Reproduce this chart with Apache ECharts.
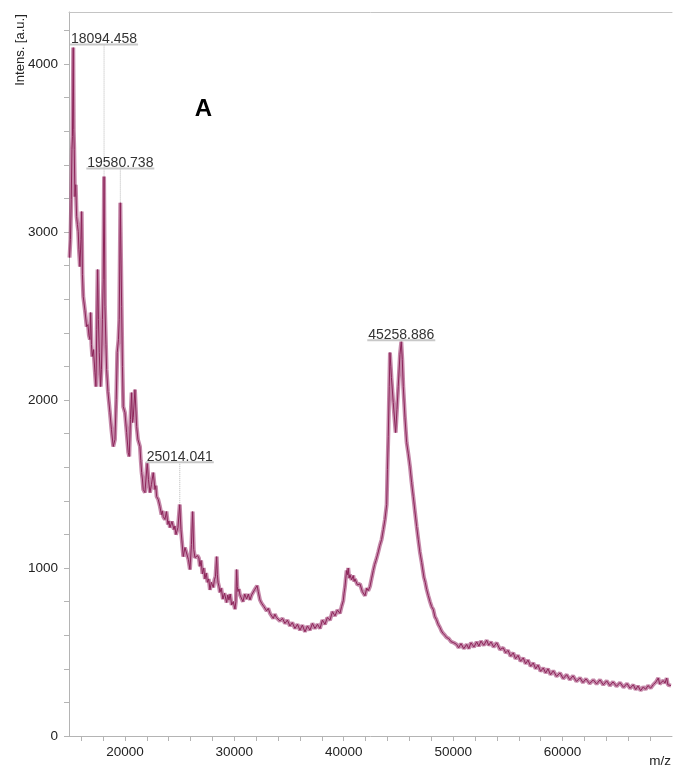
<!DOCTYPE html>
<html>
<head>
<meta charset="utf-8">
<script src="https://cdn.jsdelivr.net/npm/echarts@6/dist/echarts.min.js"></script>
<style>
  html, body { margin: 0; padding: 0; background: #fff; }
  #chart { width: 675px; height: 770px; }
</style>
</head>
<body>
<div id="chart"></div>
<script>
const chart = echarts.init(document.getElementById('chart'));

// spectrum trace: m/z and intensity
const mzValues = [
  14939, 15022, 15095, 15159, 15205, 15278, 15323, 15369, 15433, 15506, 15588, 15662, 15735, 15799, 15890, 15981,
  16045, 16119, 16192, 16347, 16502, 16621, 16713, 16804, 16868, 16941, 17014, 17124, 17261, 17352, 17426, 17508,
  17581, 17654, 17782, 17855, 17947, 18020, 18094, 18175, 18266, 18330, 18449, 18632, 18769, 18934, 19089, 19208,
  19299, 19409, 19482, 19581, 19701, 19775, 19848, 20003, 20158, 20305, 20396, 20506, 20615, 20689, 20762, 20917,
  21072, 21191, 21374, 21450, 21529, 21600, 21676, 21831, 22041, 22151, 22288, 22425, 22589, 22745, 22820, 22900,
  23047, 23202, 23339, 23420, 23504, 23659, 23796, 23933, 24020, 24116, 24299, 24482, 24570, 24664, 24847, 25014,
  25121, 25332, 25487, 25642, 25807, 25944, 26081, 26191, 26291, 26401, 26630,
  26760, 26858, 26960, 27087, 27200, 27315, 27430, 27544, 27660, 27772, 27900, 28077, 28180, 28279, 28388, 28450,
  28507, 28600, 28686, 28800, 28960, 29100, 29299, 29400, 29509, 29620, 29755, 29900, 30057, 30140, 30212, 30270,
  30331, 30420, 30514, 30650, 30788, 30950, 31126, 31280, 31428, 31580, 31730, 31850, 31976, 32080, 32186, 32340,
  32497, 32600, 32708, 32830, 32955, 33100, 33258, 33400, 33562, 33700, 33850, 34000, 34170, 34400, 34627, 34850,
  35084, 35300, 35541, 35770, 35998, 36220, 36455, 36680, 36912, 37140, 37369, 37600, 37826, 38050, 38283, 38500,
  38740, 38970, 39197, 39420, 39654, 39800, 39955, 40030, 40108, 40190, 40263, 40340, 40410, 40490, 40568, 40720,
  40870, 40950, 41025, 41250, 41482, 41700, 41939, 42100, 42240, 42396, 42550, 42697, 42820, 42942, 43050, 43153,
  43300, 43461, 43620, 43767, 43923, 43995, 44069, 44160, 44224, 44300, 44359, 44524, 44743, 44862, 44981, 45138,
  45258, 45350, 45441, 45595, 45750, 45900, 46052, 46200, 46354, 46500, 46664, 46811, 46960, 47121, 47332, 47450,
  47578, 47730, 47880, 48030, 48182, 48330, 48474, 48630, 48794, 48930, 49068, 49240, 49406, 49600, 49799, 50060,
  50320, 50500, 50713, 50970, 51235, 51430, 51627, 51900, 52148, 52350, 52541, 52800, 53063, 53250, 53455, 53700,
  53976, 54280, 54580, 54800, 55009, 55250, 55494, 55700, 55923, 56160, 56406, 56620, 56837, 57080, 57322, 57540,
  57751, 57990, 58236, 58450, 58665, 58900, 59150, 59450, 59762, 60060, 60375, 60660, 60950, 61270, 61590, 61860,
  62138, 62470, 62806, 63110, 63418, 63720, 64030, 64320, 64606, 64930, 65246, 65570, 65886, 66170, 66462, 66680,
  66891, 67130, 67376, 67590, 67805, 68050, 68290, 68420, 68536, 68747, 68870, 68993, 69204, 69360, 69515, 69620,
  69725, 69907
];
const intensValues = [
  2848, 2955, 3193, 3491, 3568, 4098, 3610, 3491, 3211, 3282, 3092, 3044, 3003, 2896, 2794, 2955,
  3122, 2747, 2616, 2533, 2437, 2449, 2384, 2360, 2521, 2330, 2259, 2300, 2163, 2080, 2419, 2777,
  2479, 2283, 2080, 2181, 2479, 2717, 3330, 2556, 2330, 2181, 2050, 1925, 1824, 1723, 1765, 2003,
  2283, 2360, 2479, 3175, 2556, 2199, 1961, 1925, 1806, 1687, 1664, 1884, 2044, 1866, 1896, 2062,
  1842, 1765, 1723, 1640, 1568, 1530, 1467, 1449, 1628, 1527, 1449, 1497, 1568, 1467, 1490, 1425,
  1408, 1366, 1318, 1340, 1306, 1289, 1336, 1259, 1280, 1241, 1277, 1229, 1250, 1199, 1241, 1378,
  1229, 1068, 1122, 1128, 1050, 991, 1140, 1336, 1110, 1062, 1074,
  1060, 1010, 1045, 965, 1000, 935, 970, 915, 935, 870, 915, 885, 930, 950, 1068, 960,
  915, 890, 855, 880, 815, 850, 795, 840, 810, 845, 780, 800, 755, 800, 991, 890,
  860, 875, 840, 830, 800, 845, 815, 845, 810, 840, 830, 870, 880, 895, 860, 810,
  790, 800, 770, 775, 745, 760, 730, 740, 700, 725, 705, 715, 685, 700, 670, 690,
  655, 675, 640, 665, 630, 660, 620, 655, 630, 670, 640, 665, 640, 690, 665, 705,
  690, 740, 715, 750, 730, 770, 805, 850, 885, 940, 985, 960, 1000, 940, 960, 930,
  955, 920, 935, 900, 905, 860, 835, 880, 865, 890, 940, 985, 1020, 1045, 1070, 1095,
  1135, 1170, 1230, 1289, 1378, 1586, 1783, 2080, 2283, 2200, 2134, 1985, 1806, 1943, 2080, 2271,
  2348, 2241, 2080, 1896, 1747, 1680, 1604, 1510, 1425, 1340, 1247, 1170, 1095, 1033, 943, 915,
  872, 835, 800, 770, 753, 710, 693, 665, 646, 625, 612, 600, 586, 580, 562, 555,
  545, 525, 550, 520, 545, 520, 555, 530, 560, 535, 565, 540, 570, 540, 560, 530,
  555, 515, 525, 495, 510, 475, 495, 460, 480, 445, 465, 430, 452, 415, 435, 400,
  422, 385, 405, 375, 400, 365, 388, 355, 375, 342, 365, 335, 358, 325, 346, 318,
  340, 312, 334, 310, 334, 305, 328, 300, 322, 296, 318, 290, 312, 284, 305, 276,
  298, 270, 292, 278, 300, 285, 306, 296, 322, 345, 310, 318, 330, 315, 345, 305,
  310, 300
];

// annotated peaks
const peakNames = ['18094.458', '19580.738', '25014.041', '45258.886'];
const peakMz = [18094, 19581, 25014, 45258];
const peakTop = [3330, 3175, 1378, 2348];
const labelLevel = [4116, 3378, 1630, 2356];

// axis ticks and labels
const xLabelValues = [20000, 30000, 40000, 50000, 60000];
const xTickValues = [16000, 18000, 20000, 22000, 24000, 26000, 28000, 30000, 32000, 34000, 36000, 38000, 40000,
  42000, 44000, 46000, 48000, 50000, 52000, 54000, 56000, 58000, 60000, 62000, 64000, 66000, 68000];
const yLabelValues = [0, 1000, 2000, 3000, 4000];
const yTickValues = [0, 200, 400, 600, 800, 1000, 1200, 1400, 1600, 1800, 2000, 2200, 2400, 2600, 2800, 3000,
  3200, 3400, 3600, 3800, 4000, 4200];

const font = '"Liberation Sans", Arial, sans-serif';
const axisGray = '#b4b4b4';
const traceData = mzValues.map((mz, i) => [mz, intensValues[i]]);

chart.setOption({
  animation: false,
  grid: { left: 69, top: 12, right: 3, bottom: 34 },
  xAxis: [
    {
      type: 'value',
      min: 14890,
      max: 70000,
      position: 'bottom',
      axisLine: { show: true, lineStyle: { color: axisGray, width: 1 } },
      axisTick: { show: true, customValues: xTickValues, length: 5, lineStyle: { color: axisGray } },
      axisLabel: { customValues: xLabelValues, formatter: (v) => String(v), color: '#222', fontSize: 13.5, fontFamily: font, margin: 9 },
      splitLine: { show: false }
    },
    {
      type: 'value',
      min: 14890,
      max: 70000,
      position: 'top',
      axisLine: { show: true, lineStyle: { color: '#c4c4c4', width: 1 } },
      axisTick: { show: false },
      axisLabel: { show: false },
      splitLine: { show: false }
    }
  ],
  yAxis: {
    type: 'value',
    min: 0,
    max: 4310,
    axisLine: { show: true, lineStyle: { color: axisGray, width: 1 } },
    axisTick: { show: true, customValues: yTickValues, length: 5, lineStyle: { color: axisGray } },
    axisLabel: { customValues: yLabelValues, formatter: (v) => String(v), color: '#222', fontSize: 13.5, fontFamily: font, margin: 11 },
    splitLine: { show: false }
  },
  graphic: [
    {
      type: 'text', x: 20, y: 50, rotation: Math.PI / 2,
      style: { text: 'Intens. [a.u.]', font: '13px ' + font, fill: '#222', align: 'center', verticalAlign: 'middle' }
    },
    {
      type: 'text', x: 671, y: 761,
      style: { text: 'm/z', font: '13.5px ' + font, fill: '#222', align: 'right', verticalAlign: 'middle' }
    },
    {
      type: 'text', x: 203.5, y: 109,
      style: { text: 'A', font: 'bold 24px ' + font, fill: '#000', align: 'center', verticalAlign: 'middle' }
    }
  ],
  series: [
    {
      type: 'line',
      data: traceData,
      showSymbol: false,
      symbol: 'none',
      lineStyle: { color: 'rgba(150, 40, 100, 0.55)', width: 4 },
      silent: true,
      z: 2
    },
    {
      type: 'line',
      data: traceData,
      showSymbol: false,
      symbol: 'none',
      lineStyle: { color: '#8c2459', width: 1 },
      silent: true,
      z: 3
    },
    {
      type: 'custom',
      data: peakMz.map((mz, i) => [mz, peakTop[i], labelLevel[i]]),
      z: 4,
      renderItem: (params, api) => {
        const top = api.coord([api.value(0), api.value(1)]);
        const lab = api.coord([api.value(0), api.value(2)]);
        return {
          type: 'group',
          children: [
            {
              type: 'line',
              shape: { x1: lab[0], y1: lab[1], x2: top[0], y2: top[1] },
              style: { stroke: '#b8b8b8', lineWidth: 1, lineDash: [1, 1] }
            },
            {
              type: 'line',
              shape: { x1: lab[0] - 34, y1: lab[1], x2: lab[0] + 34, y2: lab[1] },
              style: { stroke: '#c8c8c8', lineWidth: 2 }
            },
            {
              type: 'text',
              x: lab[0],
              y: lab[1] + 2,
              style: { text: peakNames[params.dataIndex], font: '14px ' + font, fill: '#333', align: 'center', verticalAlign: 'bottom' }
            }
          ]
        };
      }
    }
  ]
});
</script>
</body>
</html>
